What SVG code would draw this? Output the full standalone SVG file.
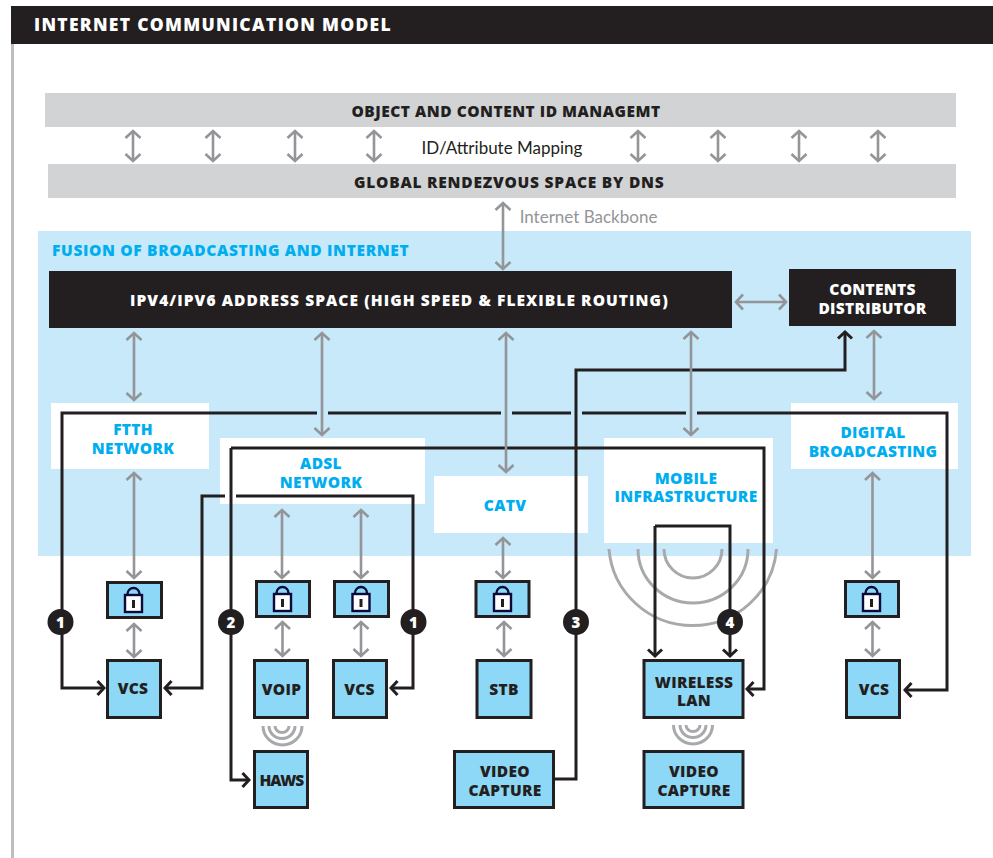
<svg xmlns="http://www.w3.org/2000/svg" xmlns:xlink="http://www.w3.org/1999/xlink" width="993" height="858" viewBox="0 0 993 858">
<style>
text{font-family:"Open Sans","Noto Sans","Liberation Sans",sans-serif;font-weight:800;text-anchor:middle}
.k{fill:#231f20;font-size:15.500px;letter-spacing:.3px}
.w{fill:#fff;font-size:15.500px;letter-spacing:.3px}
.c{fill:#00aeef;font-size:15.500px;letter-spacing:.3px}
.t{font-family:"Lato","Open Sans",sans-serif;font-weight:400;font-size:17px;letter-spacing:0}
.n{fill:#8dd7f7;stroke:#231f20;stroke-width:3}
.g{fill:none;stroke:#939598;stroke-width:2.6;marker-start:url(#ga);marker-end:url(#ga)}
.b{fill:none;stroke:#231f20;stroke-width:3;stroke-linejoin:miter}
.a{marker-end:url(#ba)}
.r{fill:none;stroke:#a7a9ac;stroke-width:3}
.d{fill:#231f20}
.e{fill:#fff;font-size:15px;font-weight:800}
</style>
<defs>
<marker id="ga" markerUnits="userSpaceOnUse" viewBox="-9 -9 11 18" refX="0" refY="0" markerWidth="11" markerHeight="18" orient="auto-start-reverse"><path d="M-7-7.500L0 0-7 7.500" fill="none" stroke="#939598" stroke-width="2.600"/></marker>
<marker id="ba" markerUnits="userSpaceOnUse" viewBox="-9 -9 11 18" refX="0" refY="0" markerWidth="11" markerHeight="18" orient="auto"><path d="M-6.500-7L0 0-6.500 7" fill="none" stroke="#231f20" stroke-width="3"/></marker>
<g id="lock"><path d="M-6 0V-1a6 6 0 0 1 12 0V0" fill="none" stroke="#0b0b3b" stroke-width="2.400"/><rect x="-8.500" y="0" width="17" height="17" fill="#fff" stroke="#0b0b3b" stroke-width="2.400"/><path d="M-1.500 5h3v8h-3z" fill="#231f20"/></g>
</defs>
<rect width="993" height="858" fill="#fff"/>
<rect x="11" y="44" width="3" height="814" fill="#bcbec0"/>
<g id="header"><rect x="11" y="6" width="982" height="38" fill="#231f20"/><text class="w" x="212.500" y="31" style="font-size:17.500px" textLength="357">INTERNET COMMUNICATION MODEL</text></g>
<g id="object-id"><rect x="45" y="93" width="911" height="34" fill="#d1d3d4"/><text class="k" x="506" y="117" textLength="309">OBJECT AND CONTENT ID MANAGEMT</text></g>
<g id="global-dns"><rect x="48" y="164" width="908" height="34" fill="#d1d3d4"/><text class="k" x="509" y="188" textLength="310">GLOBAL RENDEZVOUS SPACE BY DNS</text></g>
<text class="k t" x="502" y="154">ID/Attribute Mapping</text>
<text class="k t" x="588.500" y="223" style="fill:#939598">Internet Backbone</text>
<g id="fusion"><rect x="38" y="231" width="933" height="325" fill="#c7e9f9"/><text class="c" x="230.500" y="256" textLength="357">FUSION OF BROADCASTING AND INTERNET</text></g>
<g id="ftth"><rect x="51" y="403" width="158" height="66" fill="#fff"/><text class="c" x="133" y="435">FTTH<tspan x="133" dy="19">NETWORK</tspan></text></g>
<g id="adsl"><rect x="220" y="438" width="205" height="66" fill="#fff"/><text class="c" x="321" y="469">ADSL<tspan x="321" dy="19">NETWORK</tspan></text></g>
<g id="catv"><rect x="434" y="476" width="154" height="57" fill="#fff"/><text class="c" x="505" y="511">CATV</text></g>
<g id="mobile"><rect x="604" y="438" width="169" height="105" fill="#fff"/><text class="c" x="686" y="484">MOBILE<tspan x="686" dy="18">INFRASTRUCTURE</tspan></text></g>
<g id="digital"><rect x="791" y="403" width="167" height="66" fill="#fff"/><text class="c" x="873" y="438">DIGITAL<tspan x="873" dy="19">BROADCASTING</tspan></text></g>
<g id="waves">
<path class="r" d="M609 549a84 83 0 0 0 167.500 0M638 549a55 54 0 0 0 110 0M664 549a29 29 0 0 0 58 0"/>
<path class="r" d="M263 726a19.500 19 0 0 0 39 0M269 726a13 12.500 0 0 0 26 0M275 726a7 6.500 0 0 0 14 0" stroke-width="2.400"/>
<path class="r" d="M673.500 725a19.500 19 0 0 0 39 0M680 725a13 12.500 0 0 0 26 0M686 725a7 6.500 0 0 0 14 0" stroke-width="2.400"/>
</g>
<g id="connectors">
<path class="b a" d="M317 413H62V688H104"/>
<path class="b" d="M328 413H501M512 413H571M582 413H686"/>
<path class="b a" d="M697 413H947V690H905"/>
<path class="b a" d="M231 448H764V689H747"/>
<path class="b a" d="M231 448V780H249"/>
<path class="b a" d="M225 496H202V688H165"/>
<path class="b a" d="M236 496H413V688H391"/>
<path class="b a" d="M553 779H576V370H845V332"/>
<path class="b a" d="M655 526V656"/>
<path class="b a" d="M655 526H730V656"/>
<path class="g" d="M133 131V161"/>
<path class="g" d="M213 131V161"/>
<path class="g" d="M295 131V161"/>
<path class="g" d="M374 131V161"/>
<path class="g" d="M638 131V161"/>
<path class="g" d="M718 131V161"/>
<path class="g" d="M799 131V161"/>
<path class="g" d="M878 131V161"/>
<path class="g" d="M503 203V269"/>
<path class="g" d="M736 302H786"/>
<path class="g" d="M134 333V400"/>
<path class="g" d="M322 333V435"/>
<path class="g" d="M506 333V472"/>
<path class="g" d="M691 332V435"/>
<path class="g" d="M874 331V399"/>
<path class="g" d="M134 473V578"/>
<path class="g" d="M282 510V578"/>
<path class="g" d="M361 510V578"/>
<path class="g" d="M503 538V578"/>
<path class="g" d="M872.500 473V578"/>
<path class="g" d="M134 624V657"/>
<path class="g" d="M282.500 622V656"/>
<path class="g" d="M361 622V656"/>
<path class="g" d="M504 622V656"/>
<path class="g" d="M872.500 622V656"/>
</g>
<g id="ipv-space"><rect x="49" y="271" width="683" height="57" fill="#231f20"/><text class="w" x="399" y="306" textLength="538">IPV4/IPV6 ADDRESS SPACE (HIGH SPEED &amp; FLEXIBLE ROUTING)</text></g>
<g id="contents-distributor"><rect x="789" y="269" width="167" height="57" fill="#231f20"/><text class="w" x="872.500" y="295">CONTENTS<tspan x="872.500" dy="19">DISTRIBUTOR</tspan></text></g>
<g id="lock-1"><rect class="n" x="107.500" y="582.500" width="54" height="35"/><use xlink:href="#lock" href="#lock" x="133.500" y="595"/></g>
<g id="lock-2"><rect class="n" x="256.500" y="581.500" width="53" height="35"/><use xlink:href="#lock" href="#lock" x="282.500" y="594"/></g>
<g id="lock-3"><rect class="n" x="334.500" y="581.500" width="54" height="35"/><use xlink:href="#lock" href="#lock" x="361" y="594"/></g>
<g id="lock-4"><rect class="n" x="476" y="581.500" width="53" height="35"/><use xlink:href="#lock" href="#lock" x="502.500" y="594"/></g>
<g id="lock-5"><rect class="n" x="845.500" y="581.500" width="53" height="35"/><use xlink:href="#lock" href="#lock" x="871.500" y="594"/></g>
<g id="vcs-1"><rect class="n" x="107.500" y="660.500" width="53" height="57"/><text class="k" x="133" y="694">VCS</text></g>
<g id="voip"><rect class="n" x="254.500" y="660.500" width="53" height="57"/><text class="k" x="281.500" y="695">VOIP</text></g>
<g id="vcs-2"><rect class="n" x="333.500" y="660.500" width="53" height="57"/><text class="k" x="359.500" y="695">VCS</text></g>
<g id="haws"><rect class="n" x="254.500" y="751.500" width="53" height="56"/><text class="k" x="282" y="786" textLength="45">HAWS</text></g>
<g id="stb"><rect class="n" x="477" y="660.500" width="54" height="57"/><text class="k" x="504" y="695">STB</text></g>
<g id="video-capture-1"><rect class="n" x="454.500" y="751.500" width="99" height="56"/><text class="k" x="505" y="777">VIDEO<tspan x="505" dy="19">CAPTURE</tspan></text></g>
<g id="wireless-lan"><rect class="n" x="644" y="660.500" width="99" height="57"/><text class="k" x="694" y="688">WIRELESS<tspan x="694" dy="18">LAN</tspan></text></g>
<g id="video-capture-2"><rect class="n" x="644" y="751.500" width="99" height="56"/><text class="k" x="694" y="777">VIDEO<tspan x="694" dy="19">CAPTURE</tspan></text></g>
<g id="vcs-3"><rect class="n" x="846.500" y="660.500" width="53" height="57"/><text class="k" x="874" y="695">VCS</text></g>
<g id="badges">
<circle class="d" cx="60.500" cy="622" r="13"/><text class="e" x="60.500" y="627.500">1</text>
<circle class="d" cx="231" cy="622" r="13"/><text class="e" x="231" y="627.500">2</text>
<circle class="d" cx="413.500" cy="622" r="13"/><text class="e" x="413.500" y="627.500">1</text>
<circle class="d" cx="576" cy="622" r="13"/><text class="e" x="576" y="627.500">3</text>
<circle class="d" cx="730" cy="622" r="13"/><text class="e" x="730" y="627.500">4</text>
</g>
</svg>
